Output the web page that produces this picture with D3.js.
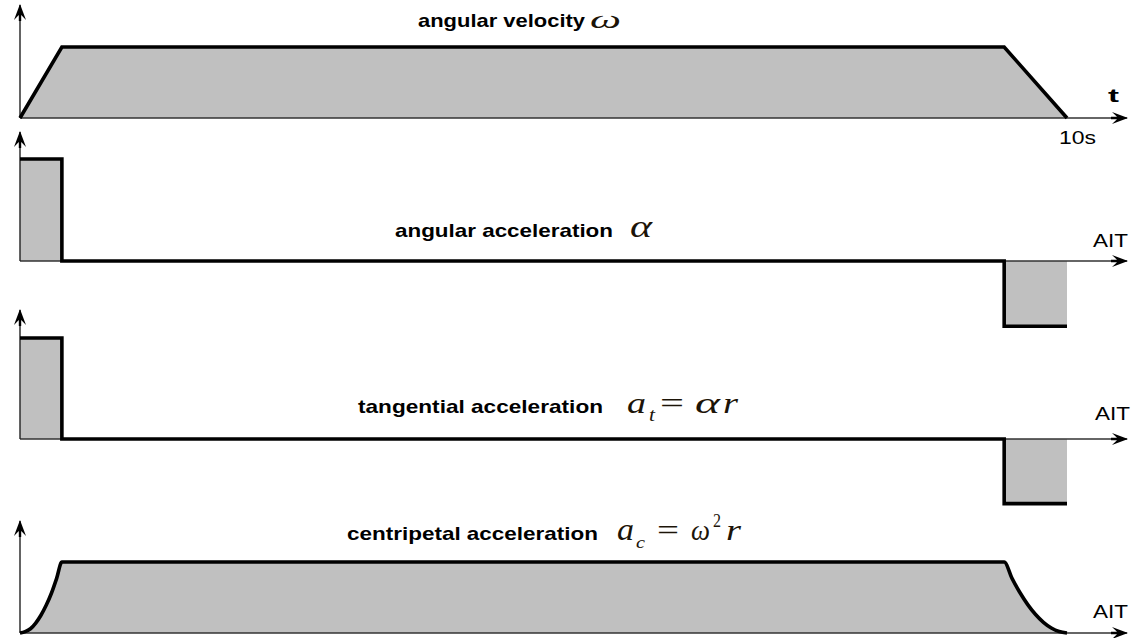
<!DOCTYPE html>
<html>
<head>
<meta charset="utf-8">
<script src="https://cdn.jsdelivr.net/npm/d3@7"></script>
<style>
html, body { margin: 0; padding: 0; background: #fff; }
svg { display: block; }
</style>
</head>
<body>
<div id="chart"></div>
<script>
'use strict';

// time axis in seconds
var timeDomain = [0, 10];

// angular velocity omega (relative to its max)
var omegaT = [0, 0.4, 9.4, 10];
var omegaV = [0, 1, 1, 0];

// angular acceleration alpha (omega max = 1)
var alphaT = [0, 0.4, 9.4, 10];
var alphaV = [2.5, 0, -1.6, -1.6];

// tangential acceleration a_t = alpha r (r = 1)
var tangT = [0, 0.4, 9.4, 10];
var tangV = [2.5, 0, -1.6, -1.6];

// centripetal acceleration a_c = omega^2 r
var centT = [0, 0.05, 0.1, 0.15, 0.2, 0.25, 0.3, 0.35, 0.4, 9.4, 9.475, 9.55, 9.625, 9.7, 9.775, 9.85, 9.925, 10];
var centV = [0, 0.02, 0.06, 0.14, 0.25, 0.39, 0.56, 0.77, 1, 1, 0.77, 0.57, 0.40, 0.26, 0.15, 0.07, 0.02, 0];

var panelTitles = ["angular velocity", "angular acceleration", "tangential acceleration", "centripetal acceleration"];
var axisNames = ["t", "AIT", "AIT", "AIT"];
var endTick = "10s";

var W = 1136, H = 638;
var FILL = "#c0c0c0";
var SANS = "'Liberation Sans', Arial, sans-serif";
var SERIF = "'Liberation Serif', 'Times New Roman', serif";
var MATH = "#1c1408";

var svg = d3.select("#chart").append("svg")
    .attr("width", W).attr("height", H);

svg.append("rect").attr("x", 0).attr("y", 0).attr("width", W).attr("height", H).attr("fill", "white");

// arrow head used on every axis end
svg.append("defs").append("marker")
    .attr("id", "arrow")
    .attr("markerUnits", "userSpaceOnUse")
    .attr("viewBox", "-18 -8 20 16")
    .attr("markerWidth", 20).attr("markerHeight", 16)
    .attr("refX", 0).attr("refY", 0)
    .attr("orient", "auto")
    .append("path")
    .attr("d", "M1,0 L-15,-6 L-10,-1.2 L-16,-1.2 L-16,1.2 L-10,1.2 L-15,6 Z")
    .attr("fill", "#000");

var x = d3.scaleLinear().domain(timeDomain).range([20, 1067]);
var axisEnd = 1127;

var panels = [
    {t: omegaT, v: omegaV, curve: d3.curveLinear,    dom: [0, 1],   base: 118, top: 47,  axisTop: 5},
    {t: alphaT, v: alphaV, curve: d3.curveStepAfter, dom: [0, 2.5], base: 261, top: 159, axisTop: 132},
    {t: tangT,  v: tangV,  curve: d3.curveStepAfter, dom: [0, 2.5], base: 439, top: 338, axisTop: 310},
    {t: centT,  v: centV,  curve: d3.curveMonotoneX, dom: [0, 1],   base: 633, top: 562, axisTop: 521}
];

panels.forEach(function(p) {
    var y = d3.scaleLinear().domain(p.dom).range([p.base, p.top]);
    var pts = p.t.map(function(t, k) { return [t, p.v[k]]; });

    var area = d3.area()
        .x(function(d) { return x(d[0]); })
        .y0(y(0))
        .y1(function(d) { return y(d[1]); })
        .curve(p.curve);
    var line = d3.line()
        .x(function(d) { return x(d[0]); })
        .y(function(d) { return y(d[1]); })
        .curve(p.curve);

    svg.append("path").datum(pts).attr("d", area).attr("fill", FILL);

    // horizontal (time) axis
    svg.append("line")
        .attr("x1", x(0)).attr("y1", y(0))
        .attr("x2", axisEnd).attr("y2", y(0))
        .attr("stroke", "#333").attr("stroke-width", 1.6)
        .attr("marker-end", "url(#arrow)");
    // vertical axis
    svg.append("line")
        .attr("x1", x(0)).attr("y1", y(0))
        .attr("x2", x(0)).attr("y2", p.axisTop)
        .attr("stroke", "#222").attr("stroke-width", 1.4)
        .attr("marker-end", "url(#arrow)");

    svg.append("path").datum(pts).attr("d", line)
        .attr("fill", "none")
        .attr("stroke", "#000").attr("stroke-width", 3.6)
        .attr("stroke-linejoin", "miter");
});

// plain text, stretched to the width it has in the picture
function txt(str, tx, ty, len, opt) {
    opt = opt || {};
    var t = svg.append("text")
        .text(str)
        .attr("x", tx).attr("y", ty)
        .attr("font-family", opt.family || SANS)
        .attr("font-size", (opt.size || 17) + "px")
        .attr("font-weight", opt.weight || "normal")
        .attr("font-style", opt.style || "normal")
        .attr("fill", opt.fill || "#000");
    if (len) {
        t.attr("textLength", len).attr("lengthAdjust", "spacingAndGlyphs");
    }
    return t;
}

// titles
var ttl = {weight: "bold", size: 18.5};
txt(panelTitles[0], 418, 27, 167, ttl);
txt(panelTitles[1], 395, 237, 218, ttl);
txt(panelTitles[2], 358, 413, 245, ttl);
txt(panelTitles[3], 347, 540, 251, ttl);

// axis names
txt(axisNames[0], 1108, 102, 11, {weight: "bold", size: 19});
txt(endTick, 1059, 144, 37, {size: 18});
txt(axisNames[1], 1093, 247, 35, {size: 18});
txt(axisNames[2], 1095, 420, 35, {size: 18});
txt(axisNames[3], 1093, 618, 35, {size: 18});

// formulas
var it = {family: SERIF, style: "italic", fill: MATH, size: 30};
var up = {family: SERIF, style: "normal", fill: MATH, size: 30};

txt("ω", 590, 28, 31, {family: SERIF, style: "italic", fill: MATH, size: 26});

txt("α", 630, 237, 22, {family: SERIF, style: "italic", fill: MATH, size: 31});

txt("a", 627, 413, 19, it);
txt("t", 649, 421, 6, {family: SERIF, style: "italic", fill: MATH, size: 18});
txt("=", 660, 413, 24, up);
txt("α", 695, 413, 25, it);
txt("r", 723, 413, 15, it);

txt("a", 617, 540, 17, {family: SERIF, style: "italic", fill: MATH, size: 32});
txt("c", 636, 548, 9, {family: SERIF, style: "italic", fill: MATH, size: 17});
txt("=", 657, 540, 22, up);
txt("ω", 691, 540, 19, it);
txt("2", 713, 527, 8, {family: SERIF, style: "normal", fill: MATH, size: 19});
txt("r", 726, 540, 15, it);
</script>
</body>
</html>
